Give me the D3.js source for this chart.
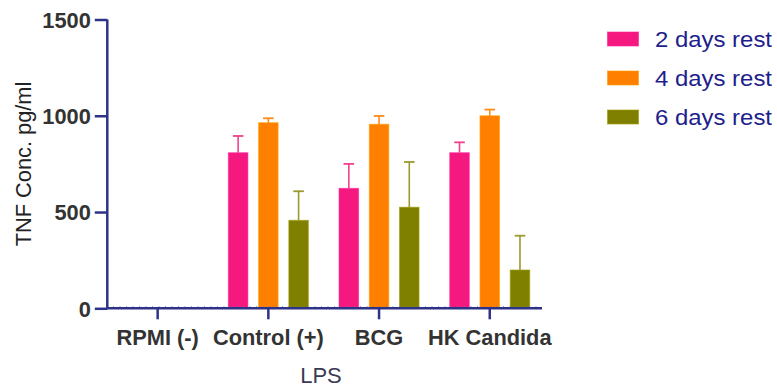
<!DOCTYPE html>
<html><head><meta charset="utf-8">
<script src="https://cdn.jsdelivr.net/npm/d3@7"></script>
<style>body{margin:0;background:#fff}svg{display:block}</style>
</head><body>
<svg id="c" width="777" height="388"></svg>
<script>
const categories = ["RPMI (-)", "Control (+)", "BCG", "HK Candida"];
const seriesNames = ["2 days rest", "4 days rest", "6 days rest"];
const colors = ["#F5187F", "#FF8000", "#808000"];
const errColors = ["#F2428F", "#FF8C1A", "#9A9A30"];
const mean2 = [0, 808, 623, 808];
const err2  = [0, 87, 127, 54];
const mean4 = [0, 964, 956, 1000];
const err4  = [0, 23, 43, 32];
const mean6 = [0, 457, 525, 199];
const err6  = [0, 151, 235, 178];
const yTicks = [0, 500, 1000, 1500];
const yTitle = "TNF Conc. pg/ml";
const xTitle = "LPS";

const means = [mean2, mean4, mean6];
const errs = [err2, err4, err6];
const svg = d3.select("#c");
const axisColor = "#2F3388";
const font = "Liberation Sans, Arial, sans-serif";

const y = d3.scaleLinear().domain([0, 1500]).range([308.3, 19.5]);
const x = d3.scaleBand().domain(categories).range([102.3, 545.1]).padding(0);
const xs = d3.scaleBand().domain(seriesNames).range([-40, 40]).paddingInner(0.354).paddingOuter(0);

// bars
seriesNames.forEach((s, si) => {
  const g = svg.append("g");
  categories.forEach((c, ci) => {
    const v = means[si][ci];
    if (v <= 0) return;
    const cx = x(c) + x.bandwidth() / 2 + xs(s) + xs.bandwidth() / 2;
    const bw = xs.bandwidth();
    g.append("rect")
      .attr("x", cx - bw / 2).attr("y", y(v))
      .attr("width", bw).attr("height", y(0) - y(v))
      .attr("fill", colors[si])
      .attr("stroke", d3.color(colors[si]).brighter(0.6)).attr("stroke-opacity", 0.6).attr("stroke-width", 1);
    const e = errs[si][ci];
    g.append("line").attr("x1", cx).attr("x2", cx).attr("y1", y(v)).attr("y2", y(v + e))
      .attr("stroke", errColors[si]).attr("stroke-width", 1.6);
    g.append("line").attr("x1", cx - 5.3).attr("x2", cx + 5.3).attr("y1", y(v + e)).attr("y2", y(v + e))
      .attr("stroke", errColors[si]).attr("stroke-width", 1.8);
  });
});

// x axis minor ticks
const minor = svg.append("g");
for (let px = 113.5; px < 542; px += 6.5) {
  minor.append("line").attr("x1", px).attr("x2", px).attr("y1", y(0) - 2).attr("y2", y(0))
    .attr("stroke", "#7A7DB0").attr("stroke-width", 1);
}

// y axis
const yAxis = svg.append("g").attr("transform", "translate(107.3,0)")
  .call(d3.axisLeft(y).tickValues(yTicks).tickSize(12.5).tickPadding(4).tickFormat(d3.format("d")));
yAxis.select(".domain").attr("stroke", axisColor).attr("stroke-width", 2.5).attr("d", `M0,${y(1500)}V${y(0)}`);
yAxis.selectAll(".tick line").attr("stroke", axisColor).attr("stroke-width", 2.5);
yAxis.selectAll(".tick text").attr("fill", "#333").attr("font-family", font)
  .attr("font-weight", "bold").attr("font-size", "21.8px").attr("dy", "0.36em");

// x axis
const xAxis = svg.append("g").attr("transform", `translate(0,${y(0)})`)
  .call(d3.axisBottom(x).tickSize(11).tickPadding(10));
xAxis.select(".domain").attr("stroke", axisColor).attr("stroke-width", 2.5).attr("d", `M106,0H542`);
xAxis.selectAll(".tick line").attr("stroke", axisColor).attr("stroke-width", 2.5);
xAxis.selectAll(".tick text").attr("fill", "#333").attr("font-family", font)
  .attr("font-weight", "bold").attr("font-size", "21.8px");

// titles
svg.append("text").attr("transform", "translate(31,164) rotate(-90)")
  .attr("text-anchor", "middle").attr("font-family", font)
  .attr("font-size", "21.8px").attr("fill", "#222").text(yTitle);
svg.append("text").attr("x", 321).attr("y", 383)
  .attr("text-anchor", "middle").attr("font-family", font)
  .attr("font-size", "22px").attr("fill", "#3A3A55").text(xTitle);

// legend
const leg = svg.append("g");
seriesNames.forEach((s, i) => {
  const cy = 39 + i * 39;
  leg.append("rect").attr("x", 607.5).attr("y", cy - 7).attr("width", 31).attr("height", 14)
    .attr("fill", colors[i]).attr("stroke", d3.color(colors[i]).brighter(0.6)).attr("stroke-opacity", 0.6);
  leg.append("text").attr("x", 655).attr("y", cy).attr("dy", "0.36em")
    .attr("font-family", font).attr("font-size", "22.5px")
    .attr("textLength", 117).attr("lengthAdjust", "spacingAndGlyphs")
    .attr("fill", "#1E1E8C").text(s);
});
</script>
</body></html>
